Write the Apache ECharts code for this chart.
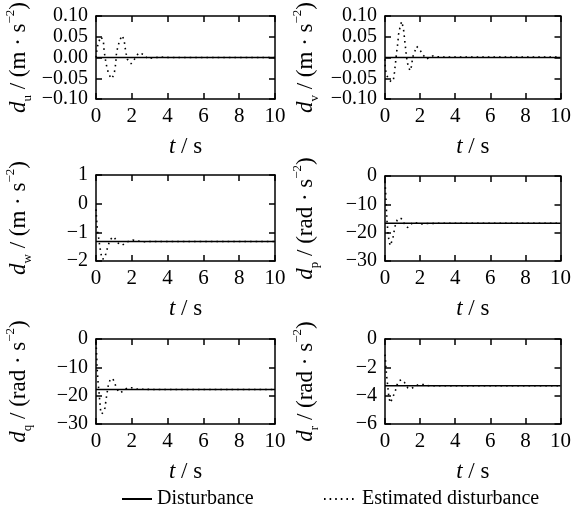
<!DOCTYPE html>
<html>
<head>
<meta charset="utf-8">
<script src="https://cdn.jsdelivr.net/npm/echarts@6/dist/echarts.min.js"></script>
<style>
  html, body { margin: 0; padding: 0; background: #fff; }
  #chart { width: 574px; height: 515px; }
</style>
</head>
<body>
<div id="chart"></div>
<script>
// Time axis (s) shared by all panels
const timeTicks = [0, 2, 4, 6, 8, 10];

// Estimated disturbance samples: [t, value] per channel
const uTime = [0, 0.04, 0.12, 0.28, 0.41, 0.46, 0.56, 0.63, 0.71, 0.88, 1.0, 1.06, 1.1, 1.15, 1.25, 1.3, 1.47, 1.58, 1.62, 1.68, 1.75, 1.96, 2.15, 2.38, 2.68, 2.89, 3.17, 3.6, 4.2, 5, 10];
const uEst  = [0, 0.015, 0.035, 0.05, 0.04, 0.014, -0.014, -0.027, -0.041, -0.051, -0.041, -0.028, -0.014, 0.014, 0.029, 0.04, 0.053, 0.04, 0.026, 0.01, -0.004, -0.015, -0.004, 0.011, 0.0075, -0.003, -0.001, 0.001, 0, 0, 0];

const vTime = [0, 0.02, 0.11, 0.26, 0.39, 0.49, 0.54, 0.58, 0.67, 0.73, 0.77, 0.86, 0.95, 1.05, 1.09, 1.14, 1.2, 1.27, 1.42, 1.52, 1.57, 1.7, 1.8, 1.98, 2.17, 2.36, 2.73, 3.0, 3.5, 5, 10];
const vEst  = [-0.004, -0.028, -0.044, -0.055, -0.059, -0.051, -0.036, -0.02, 0.015, 0.035, 0.055, 0.074, 0.087, 0.07, 0.055, 0.035, 0.011, -0.012, -0.032, -0.02, 0, 0.015, 0.027, 0.019, 0.006, -0.004, 0.004, 0.002, 0.001, 0.001, 0.001];

const wTime = [0, 0.03, 0.06, 0.1, 0.15, 0.22, 0.28, 0.33, 0.45, 0.55, 0.65, 0.75, 0.85, 0.97, 1.1, 1.25, 1.45, 1.65, 1.85, 2.05, 2.3, 2.6, 3, 10];
const wEst  = [-0.2, -0.5, -0.8, -1.0, -1.2, -1.53, -1.74, -1.93, -1.92, -1.75, -1.52, -1.33, -1.22, -1.15, -1.25, -1.38, -1.45, -1.38, -1.3, -1.27, -1.3, -1.33, -1.32, -1.32];

const pTime = [0, 0.03, 0.06, 0.09, 0.12, 0.17, 0.23, 0.3, 0.38, 0.45, 0.52, 0.6, 0.7, 0.85, 0.98, 1.1, 1.28, 1.45, 1.6, 1.8, 2.0, 2.3, 3, 10];
const pEst  = [-2, -5, -9, -13, -16.5, -20, -23, -24.6, -24, -22, -19.5, -17, -15.5, -14.8, -15.2, -16.8, -18.2, -17.3, -16.3, -16.6, -17, -16.8, -16.7, -16.7];

const qTime = [0, 0.02, 0.04, 0.06, 0.09, 0.12, 0.17, 0.22, 0.26, 0.33, 0.42, 0.5, 0.56, 0.62, 0.7, 0.8, 0.92, 1.02, 1.12, 1.25, 1.38, 1.55, 1.75, 2.0, 2.3, 3, 10];
const qEst  = [-1, -3.5, -6.5, -10, -13, -15.5, -19, -22.5, -25.5, -26.5, -26.4, -24.4, -21.5, -19, -15.8, -14.3, -13.9, -15, -17, -18.5, -19, -18, -17.3, -17.2, -17.7, -17.8, -17.8];

const rTime = [0, 0.03, 0.06, 0.09, 0.13, 0.17, 0.22, 0.3, 0.38, 0.48, 0.58, 0.68, 0.8, 0.95, 1.1, 1.3, 1.5, 1.7, 1.9, 2.2, 2.5, 3, 10];
const rEst  = [-1.1, -1.6, -2.1, -2.6, -3.0, -3.5, -4.1, -4.5, -4.3, -4.0, -3.7, -3.25, -2.95, -2.88, -3.05, -3.45, -3.5, -3.35, -3.22, -3.22, -3.3, -3.3, -3.3];

// Actual (constant) disturbance per channel
const disturbance = [0, 0, -1.32, -16.7, -17.8, -3.3];

// Y-axis ranges and tick steps per channel
const yMin = [-0.1, -0.1, -2, -30, -30, -6];
const yMax = [0.1, 0.1, 1, 0, 0, 0];
const yStep = [0.05, 0.05, 1, 10, 10, 2];
const yDecimals = [2, 2, 0, 0, 0, 0];

// Channel subscripts and units for the y-axis titles
const channels = ['u', 'v', 'w', 'p', 'q', 'r'];
const units = ['m', 'm', 'm', 'rad', 'rad', 'rad'];

const legendNames = ['Disturbance', 'Estimated disturbance'];

const times = [uTime, vTime, wTime, pTime, qTime, rTime];
const ests = [uEst, vEst, wEst, pEst, qEst, rEst];

const FONT = 'Liberation Serif';
const grids = [
  { left: 96, top: 14, width: 179, height: 85 },
  { left: 385, top: 14, width: 178, height: 85 },
  { left: 96, top: 175, width: 179, height: 86 },
  { left: 385, top: 176, width: 178, height: 85 },
  { left: 96, top: 339, width: 179, height: 85 },
  { left: 385, top: 339, width: 178, height: 85 }
];

const lineBlack = { color: '#000', width: 1.5 };
const richName = {
  i: { fontFamily: FONT, fontStyle: 'italic', fontSize: 23, lineHeight: 30, color: '#000' },
  n: { fontFamily: FONT, fontSize: 23, lineHeight: 30, color: '#000' },
  sub: { fontFamily: FONT, fontSize: 13, lineHeight: 13, verticalAlign: 'bottom', color: '#000' },
  sup: { fontFamily: FONT, fontSize: 13, lineHeight: 13, verticalAlign: 'top', color: '#000' }
};

const xAxes = [], yAxes = [], series = [];
grids.forEach((g, k) => {
  const common = {
    gridIndex: k, type: 'value', splitLine: { show: false },
    axisLine: { show: true, onZero: false, lineStyle: lineBlack },
    axisTick: { show: true, inside: true, length: 6, lineStyle: lineBlack }
  };
  xAxes.push(Object.assign({}, common, {
    position: 'bottom', min: timeTicks[0], max: timeTicks[timeTicks.length - 1], interval: timeTicks[1] - timeTicks[0],
    axisLabel: { color: '#000', fontFamily: FONT, fontSize: 21, margin: 7, showMinLabel: true, showMaxLabel: true },
    name: '{i|t}{n| / s}', nameLocation: 'middle', nameGap: 33,
    nameTextStyle: { rich: richName }
  }));
  xAxes.push(Object.assign({}, common, {
    position: 'top', min: timeTicks[0], max: timeTicks[timeTicks.length - 1], interval: timeTicks[1] - timeTicks[0],
    axisLabel: { show: false }
  }));
  const dec = yDecimals[k];
  yAxes.push(Object.assign({}, common, {
    position: 'left', min: yMin[k], max: yMax[k], interval: yStep[k],
    axisLabel: {
      color: '#000', fontFamily: FONT, fontSize: 20, margin: 8,
      showMinLabel: true, showMaxLabel: true,
      formatter: v => {
        const s = (Math.abs(v) < 1e-9 ? 0 : v).toFixed(dec);
        return s.replace('-', '\u2212');
      }
    },
    name: '{i|d}{sub|' + channels[k] + '}{n| / (' + units[k] + ' · s}{sup|\u22122}{n|)}',
    nameLocation: 'middle', nameRotate: 90, nameGap: k % 2 === 0 ? 62 : 64,
    nameTextStyle: { rich: richName }
  }));
  yAxes.push(Object.assign({}, common, {
    position: 'right', min: yMin[k], max: yMax[k], interval: yStep[k],
    axisLabel: { show: false }
  }));

  series.push({
    name: legendNames[1], type: 'line', xAxisIndex: 2 * k, yAxisIndex: 2 * k,
    data: times[k].map((t, j) => [t, ests[k][j]]),
    symbol: 'none', lineStyle: { color: '#000', width: 1.6, type: [1.6, 4] },
    itemStyle: { color: '#000' }
  });
  series.push({
    name: legendNames[0], type: 'line', xAxisIndex: 2 * k, yAxisIndex: 2 * k,
    data: [[timeTicks[0], disturbance[k]], [timeTicks[timeTicks.length - 1], disturbance[k]]],
    symbol: 'none', lineStyle: { color: '#000', width: 1.6, type: 'solid' },
    itemStyle: { color: '#000' }
  });
});

const legendText = { color: '#000', fontFamily: FONT, fontSize: 20 };
const legendCommon = {
  top: 484, itemWidth: 30, itemHeight: 14, textStyle: legendText, selectedMode: false,
  itemStyle: { opacity: 0 }
};
const chart = echarts.init(document.getElementById('chart'), null, { renderer: 'canvas' });
chart.setOption({
  backgroundColor: '#fff',
  animation: false,
  grid: grids,
  xAxis: xAxes,
  yAxis: yAxes,
  legend: [
    Object.assign({ data: [legendNames[0]], left: 116 }, legendCommon),
    Object.assign({ data: [legendNames[1]], left: 318 }, legendCommon, { itemWidth: 33 })
  ],
  series: series
});
</script>
</body>
</html>
